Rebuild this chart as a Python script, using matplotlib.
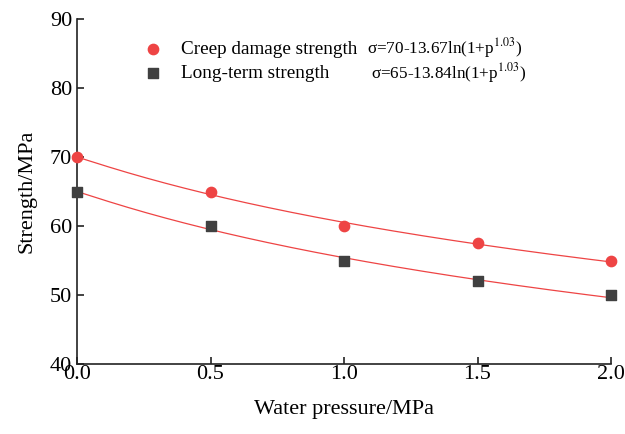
import numpy as np
import matplotlib

matplotlib.use("Agg")
import matplotlib.pyplot as plt

plt.rcParams["font.family"] = ["Liberation Serif", "DejaVu Serif"]
plt.rcParams["mathtext.fontset"] = "stix"

# measured points
pressure = [0.0, 0.5, 1.0, 1.5, 2.0]
creep_damage = [70, 65, 60, 57.5, 55]
long_term = [65, 60, 55, 52, 50]

# fit parameters shown on the chart: sigma = a - b*ln(1 + p^c)
creep_fit = (70, 13.67, 1.03)
long_fit = (65, 13.84, 1.03)

RED = "#EE4444"
GREY = "#404040"


def fit_curve(params, p):
    a, b, c = params
    return a - b * np.log(1 + p ** c)


fig = plt.figure(figsize=(6.25, 4.34), dpi=100)
ax = fig.add_axes([77 / 625, 70 / 434, 534 / 625, 345 / 434])

p = np.linspace(0, 2, 200)
ax.plot(p, fit_curve(creep_fit, p), color=RED, lw=0.9, zorder=2)
ax.plot(p, fit_curve(long_fit, p), color=RED, lw=0.9, zorder=2)
h1 = ax.scatter(pressure, creep_damage, s=55, marker="o", color=RED, zorder=3, clip_on=False,
                label="Creep damage strength")
h2 = ax.scatter(pressure, long_term, s=50, marker="s", color=GREY, zorder=3, clip_on=False,
                label="Long-term strength")

ax.set_xlim(0, 2)
ax.set_ylim(40, 90)
ax.set_xticks([0.0, 0.5, 1.0, 1.5, 2.0])
ax.set_xticklabels(["0.0", "0.5", "1.0", "1.5", "2.0"])
ax.set_yticks([40, 50, 60, 70, 80, 90])

for side in ("top", "right"):
    ax.spines[side].set_visible(False)
for side in ("left", "bottom"):
    ax.spines[side].set_linewidth(1.2)
    ax.spines[side].set_color("#222222")
ax.tick_params(direction="in", length=5, width=1.2, labelsize=16, color="#222222")
ax.tick_params(axis="x", pad=1)

ax.set_xlabel("Water pressure/MPa", fontsize=16, labelpad=11)
ax.set_ylabel("Strength/MPa", fontsize=16, labelpad=10)

ax.legend(handles=[h1, h2], loc="upper left", bbox_to_anchor=(0.0925, 0.96), frameon=False,
          fontsize=13.8, handletextpad=0.45, labelspacing=0.35, borderaxespad=0)

ax.text(0.544, 0.915, r"σ=70-13.67ln(1+p$^{1.03}$)", transform=ax.transAxes, fontsize=12.3, va="center")
ax.text(0.551, 0.843, r"σ=65-13.84ln(1+p$^{1.03}$)", transform=ax.transAxes, fontsize=12.3, va="center")

fig.savefig("out.png", dpi=100)
